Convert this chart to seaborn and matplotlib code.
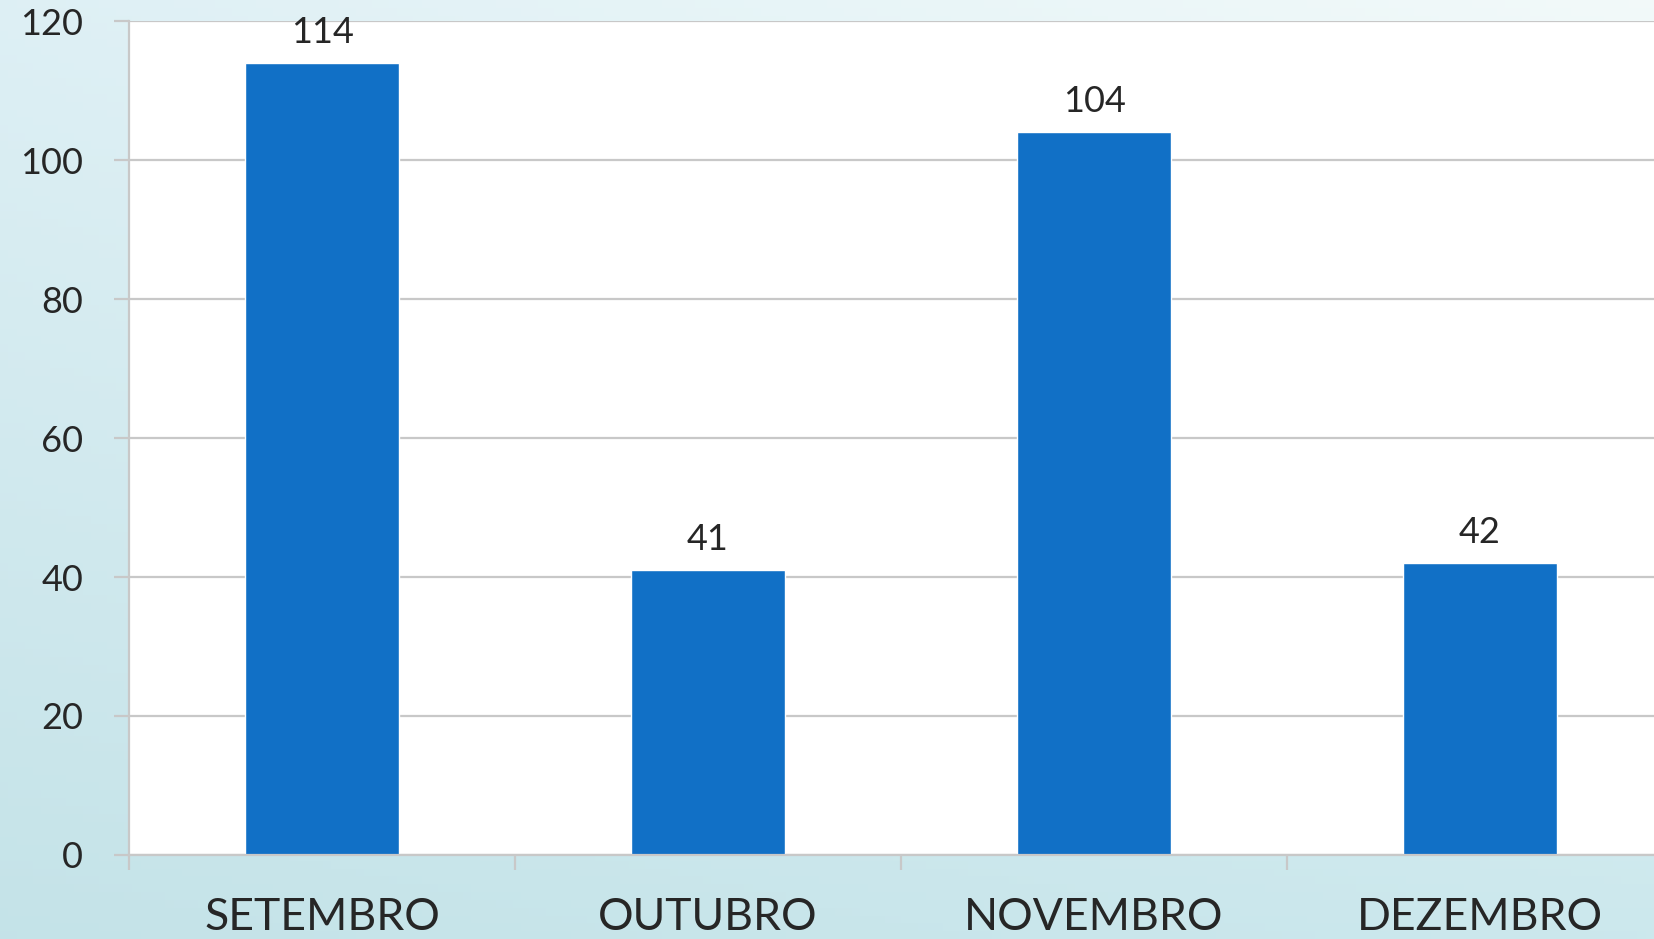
import numpy as np
import pandas as pd
import matplotlib
matplotlib.use("Agg")
import matplotlib.pyplot as plt
import seaborn as sns
from matplotlib.ticker import FixedLocator

meses = ["SETEMBRO", "OUTUBRO", "NOVEMBRO", "DEZEMBRO"]
valores = [114, 41, 104, 42]
y_ticks = [0, 20, 40, 60, 80, 100, 120]

sns.set_theme(style="white")
plt.rcParams["font.family"] = ["Lato", "DejaVu Sans"]

df = pd.DataFrame({"mes": meses, "valor": valores})

fig = plt.figure(figsize=(16.54, 9.39), dpi=100)

# fundo em degradê azul claro
bg = fig.add_axes([0, 0, 1, 1], zorder=0)
tl = np.array([0.87, 0.94, 0.96])
tr = np.array([0.95, 0.98, 0.98])
bl = np.array([0.77, 0.89, 0.91])
br = np.array([0.80, 0.91, 0.93])
u = np.linspace(0, 1, 200)[None, :, None]
v = np.linspace(0, 1, 120)[:, None, None]
grad = (1 - v) * ((1 - u) * tl + u * tr) + v * ((1 - u) * bl + u * br)
bg.imshow(grad, aspect="auto", extent=[0, 1, 0, 1])
bg.axis("off")

ax = fig.add_axes([0.078, 0.0895, 0.9335, 0.888], zorder=1)
ax.set_facecolor("white")
sns.barplot(data=df, x="mes", y="valor", color="#1170c6", width=0.4,
            saturation=1, ax=ax)

ax.set_ylim(0, 120)
ax.set_xlim(-0.5, len(meses) - 0.5)
ax.set_yticks(y_ticks)
ax.yaxis.grid(True, color="#c8c8c8", linewidth=1.6)
ax.set_axisbelow(True)
ax.set_xlabel("")
ax.set_ylabel("")

for side in ["top", "right"]:
    ax.spines[side].set_visible(False)
for side in ["left", "bottom"]:
    ax.spines[side].set_color("#c8c8c8")
    ax.spines[side].set_linewidth(1.6)

ax.tick_params(axis="y", length=11, width=1.6, color="#c8c8c8",
               labelsize=26, pad=22, left=True)
ax.xaxis.set_minor_locator(FixedLocator([i - 0.5 for i in range(len(meses) + 1)]))
ax.tick_params(axis="x", which="minor", length=11, width=1.6,
               color="#c8c8c8", bottom=True)
ax.tick_params(axis="x", which="major", length=0, labelsize=32, pad=30)

ax.bar_label(ax.containers[0], labels=[str(v) for v in valores],
             fontsize=26, padding=10, clip_on=False)

fig.savefig("out.png", dpi=100)
